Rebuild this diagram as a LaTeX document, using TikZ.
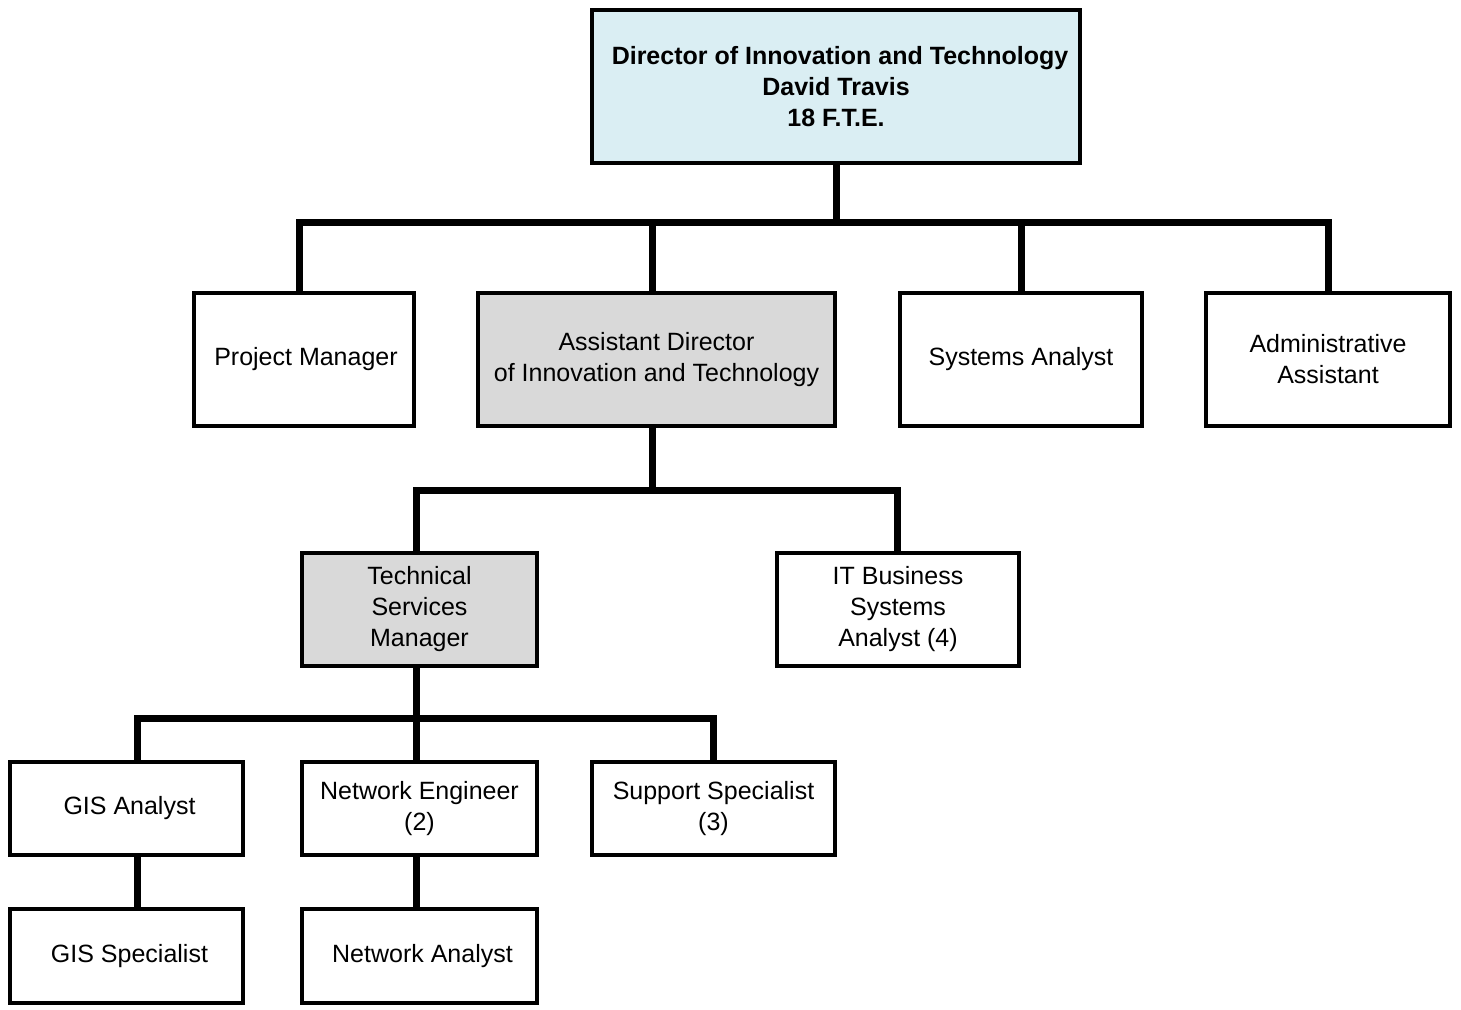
\documentclass[tikz,border=0pt]{standalone}
\usepackage{fontspec}
\setmainfont{Liberation Sans}
\definecolor{dirblue}{HTML}{DAEEF3}
\definecolor{mgrgray}{HTML}{D9D9D9}
\begin{document}
\begin{tikzpicture}[x=1pt,y=-1pt,
  box/.style={draw=black,line width=4pt,fill=white,inner sep=0pt,outer sep=0pt,
    align=center,font=\fontsize{25}{31}\selectfont},
  conn/.style={draw=black,line width=7pt,line join=miter}]
\useasboundingbox (0,0) rectangle (1461,1009);
% boxes
\node[box,fill=dirblue,minimum width=488pt,minimum height=153pt,font=\fontsize{25}{31}\selectfont\bfseries]
  (dir) at (836,86.5) {\hspace*{8pt}Director of Innovation and Technology\\David Travis\\18 F.T.E.};
\node[box,minimum width=220pt,minimum height=133pt] (pm) at (304,359.5) {\hspace*{4pt}Project Manager};
\node[box,fill=mgrgray,minimum width=357pt,minimum height=133pt] (ad) at (656.5,359.5) {Assistant Director\\of Innovation and Technology};
\node[box,minimum width=242pt,minimum height=133pt] (sa) at (1021,359.5) {Systems Analyst};
\node[box,minimum width=244pt,minimum height=133pt] (aa) at (1328,359.5) {Administrative\\Assistant};
\node[box,fill=mgrgray,minimum width=235pt,minimum height=113pt] (tsm) at (419.5,609.5) {Technical\\Services\\Manager};
\node[box,minimum width=242pt,minimum height=113pt] (it) at (898,609.5) {IT Business\\Systems\\Analyst (4)};
\node[box,minimum width=233pt,minimum height=93pt] (gisa) at (126.5,808.5) {\hspace*{6pt}GIS Analyst};
\node[box,minimum width=235pt,minimum height=93pt] (ne) at (419.5,808.5) {Network Engineer\\(2)};
\node[box,minimum width=243pt,minimum height=93pt] (ss) at (713.5,808.5) {Support Specialist\\(3)};
\node[box,minimum width=233pt,minimum height=94pt] (giss) at (126.5,956) {\hspace*{6pt}GIS Specialist};
\node[box,minimum width=235pt,minimum height=94pt] (na) at (419.5,956) {\hspace*{6pt}Network Analyst};
% bus coordinates
\coordinate (b1) at (836,222);
\coordinate (b2) at (652,490);
\coordinate (b3) at (416,718);
% level 1
\draw[conn] (dir.south) -- (b1);
\draw[conn] ([xshift=-5pt]pm.north) |- (b1);
\draw[conn] ([xshift=-4.5pt]ad.north) |- (b1);
\draw[conn] (sa.north) |- (b1);
\draw[conn] (aa.north) |- (b1);
% level 2
\draw[conn] ([xshift=-4.5pt]ad.south) -- (b2);
\draw[conn] ([xshift=-3.5pt]tsm.north) |- (b2);
\draw[conn] ([xshift=-1pt]it.north) |- (b2);
% level 3
\draw[conn] ([xshift=-3.5pt]tsm.south) -- (b3);
\draw[conn] ([xshift=10.5pt]gisa.north) |- (b3);
\draw[conn] ([xshift=-3.5pt]ne.north) -- (b3);
\draw[conn] (ss.north) |- (b3);
% level 4
\draw[conn] ([xshift=10.5pt]gisa.south) -- ([xshift=10.5pt]giss.north);
\draw[conn] ([xshift=-3.5pt]ne.south) -- ([xshift=-3.5pt]na.north);
\end{tikzpicture}
\end{document}
